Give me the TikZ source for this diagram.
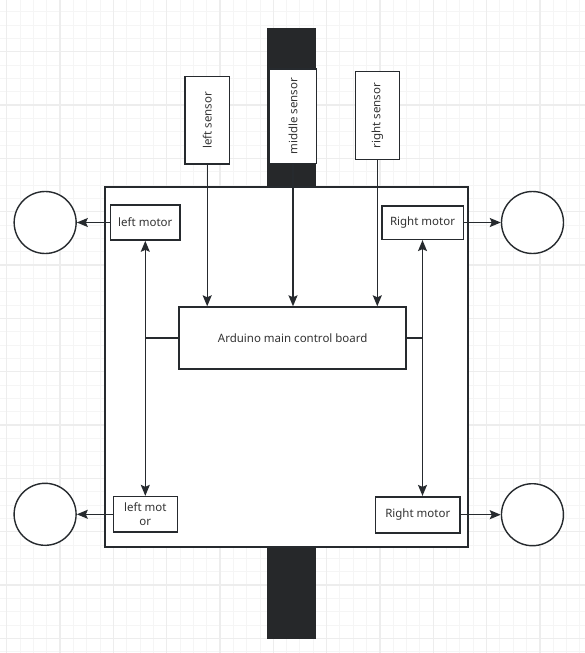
\documentclass[tikz,border=0pt]{standalone}
\usepackage{fontspec}
\setmainfont{Noto Sans}
\usepackage{tikz}
\usetikzlibrary{
  positioning,
  arrows.meta
}
\definecolor{linegray}{RGB}{38,42,46}
\definecolor{textgray}{RGB}{51,51,51}
\definecolor{barblack}{RGB}{38,40,42}
\definecolor{gridminor}{RGB}{245,245,245}
\definecolor{gridmajor}{RGB}{237,237,237}

\begin{document}
\begin{tikzpicture}[
  x=1pt, y=-1pt,
  >={Stealth[length=11pt, width=9pt, inset=2pt]},
  % --- node styles ---
  part/.style={
    draw=linegray, line width=1.6pt, fill=white, inner sep=1pt,
    font=\fontsize{11.5}{14}\selectfont, text=textgray, align=center
  },
  sensor/.style={part, line width=1.3pt},
  motor/.style={part},
  wheel/.style={
    circle, draw=linegray, line width=1.4pt, fill=white,
    minimum size=62pt, inner sep=0pt
  },
  arr/.style={->, line width=1.3pt, linegray},
  link/.style={line width=1.3pt, linegray},
]
\useasboundingbox (0,0) rectangle (585,653);
\fill[white] (0,0) rectangle (585,653);

% Background grid
\foreach \i in {0,...,43}
  \draw[gridminor, line width=1pt] ({6.67+13.333*\i},0) -- ++(0,653);
\foreach \j in {0,...,48}
  \draw[gridminor, line width=1pt] (0,{11.7+13.333*\j}) -- ++(585,0);
\foreach \i in {0,...,10}
  \draw[gridmajor, line width=1.2pt] ({6.67+53.333*\i},0) -- ++(0,653);
\foreach \j in {0,...,11}
  \draw[gridmajor, line width=1.2pt] (0,{51.7+53.333*\j}) -- ++(585,0);

% Track and car body
\node[fill=barblack, minimum width=48.4pt, minimum height=611pt, inner sep=0pt] (track) at (291.5,333.8) {};
\node[draw=linegray, line width=2pt, fill=white, minimum width=363pt, minimum height=360pt] (body) at (286.5,367) {};

% Sensors
\node[sensor, minimum width=44.3pt, minimum height=87.3pt] (lsensor) at (207.2,120.3) {\rotatebox{90}{left sensor}};
\node[sensor, minimum width=47.4pt, minimum height=94.3pt] (msensor) at (293,116.2) {\rotatebox{90}{middle sensor}};
\node[sensor, minimum width=44pt, minimum height=87.6pt] (rsensor) at (377.3,115.5) {\rotatebox{90}{right sensor}};

% Control board
\node[part, line width=2pt, minimum width=226.7pt, minimum height=61.4pt] (board) at (292.7,338) {Arduino main control board};

% Motors
\node[motor, minimum width=69.3pt, minimum height=35pt] (lmotor) at (145.3,222.5) {left motor};
\node[motor, minimum width=81.6pt, minimum height=33.6pt] (rmotor) at (422.5,222.5) {Right motor};
\node[motor, minimum width=64pt, minimum height=35.3pt] (lmotorb) at (145.3,514.3) {left mot\\or};
\node[motor, minimum width=84.3pt, minimum height=36pt] (rmotorb) at (417.8,514.7) {Right motor};

% Wheels
\node[wheel, left=33pt of lmotor] (lwheel) {};
\node[wheel, right=36.7pt of rmotor] (rwheel) {};
\node[wheel, left=35.7pt of lmotorb] (lwheelb) {};
\node[wheel, right=40pt of rmotorb] (rwheelb) {};

% Sensor signals
\draw[arr] (lsensor.south) -- (lsensor.south |- board.north);
\draw[arr] (msensor.south) -- (msensor.south |- board.north);
\draw[arr] (rsensor.south) -- (rsensor.south |- board.north);

% Motor drive lines
\coordinate (ljoin) at (lmotor.south |- board.west);
\coordinate (rjoin) at (rmotor.south |- board.east);
\draw[link] (board.west) -- (ljoin);
\draw[link] (board.east) -- (rjoin);
\draw[link, <->] (lmotor.south) -- (lmotorb.north -| ljoin);
\draw[link, <->] (rmotor.south) -- (rmotorb.north -| rjoin);

% Motors to wheels
\draw[arr] (lmotor.west) -- (lwheel.east);
\draw[arr] (rmotor.east) -- (rwheel.west);
\draw[arr] (lmotorb.west) -- (lwheelb.east);
\draw[arr] (rmotorb.east) -- (rwheelb.west);

\end{tikzpicture}
\end{document}
